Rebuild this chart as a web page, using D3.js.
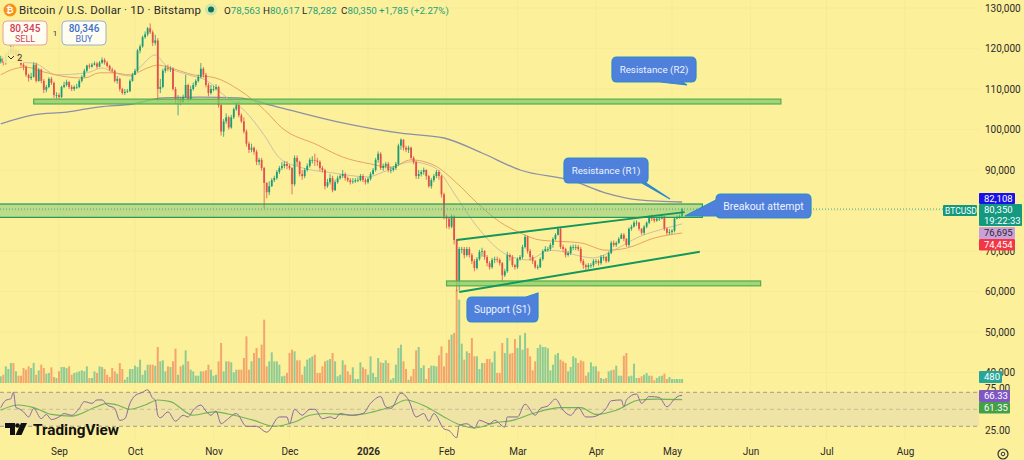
<!DOCTYPE html>
<html>
<head>
<meta charset="utf-8">
<script src="https://cdn.jsdelivr.net/npm/d3@7"></script>
<style>
html, body { margin: 0; padding: 0; background: #fdf09b; overflow: hidden; }
text { font-family: Roboto, "Liberation Sans", sans-serif; }
</style>
</head>
<body>
<div id="chart"></div>
<script>
// prices in thousands of USD, one candle a day starting 2025-08-09
var closes = [
  117.5,116.5,118.5,119,120,118.5,119.5,117.5,116,115.5,
  113.5,112.7,113,116,112,114.8,112,109.8,110.5,112.5,
  111.5,108.5,108.5,108,110.5,111,111.7,110.5,110,110.5,
  110.5,112,113,114.5,115.8,115.5,116,116.3,115.5,116.5,
  117.2,116.5,115.7,114.8,114.5,112,112.5,110,109,109.3,
  109.5,112,113.5,114.5,119.5,120.5,122.8,123.5,125,124,
  121.4,122,110,110.5,114.5,115.2,115,115,110,107.5,
  107.5,106.8,108,111,107.5,110,111,112,113,115,
  113.5,111,109,110,110,110.5,106,99.5,102,103,
  100.5,103,105,106,103.5,102,99.5,96.5,95,95.5,
  94.5,92,92.5,90.5,86.8,84.5,86,87.5,88,89.5,
  90.5,91,91.5,91,90.5,86.5,93,92,89,88.5,
  90,91,92.5,92.5,92.3,92,90.5,90,86,87,
  88,85,87,88,88.5,89,88,87.5,87,87.2,
  87.5,87.5,88.5,87.5,87,87.8,89,90,92.5,94,
  90.5,91,91.5,90,90,90.5,91.5,96,97.5,95.5,
  95,95.5,93,92,88.5,89,89.5,90,88.5,86,
  87.5,88.5,89.5,88.5,84,78.5,78,76,78.5,72.7,
  62.5,70.5,70.5,69,70.5,69,67.5,65.8,68,69.8,
  70,68.5,67,66,67.8,68,67.8,67,64,65,
  69,68.5,66.5,66,68,68.5,71,73.5,70,68.5,
  67.5,66,66,68,70,70.5,70.5,71.5,73,74,
  75.5,71,70.5,69,69.5,71,71,71,70.5,67.5,
  66.5,66,66.5,66.5,67.5,67.5,67,68.5,68.5,67.5,
  69.5,72,71.5,72,73,74,73,71.5,75.5,76,
  77,77,75.5,74.5,76,77,78.5,78,77.5,78,
  78,78.5,75.5,74.5,74.7,75,78,78.2,78.56,80.35
];
var highs = [
  118.2,118,119,119.8,121,120.5,120,119.8,118,116.8,
  115.8,113.8,114,116.6,116.5,115.2,115,112.5,111,112.9,
  113,111.8,109.2,109,110.8,111.8,112.3,112,111,110.9,
  111.3,112.4,113.4,115,116,116.3,116.4,116.8,116.7,116.9,
  117.8,117.6,116.9,116,115.3,114.8,113.2,112.8,110.3,110,
  110,112.4,114,115,119.9,121,123.2,124.2,125.3,126.2,
  124.5,123.4,122.6,112.5,115,115.8,116,115.6,115.4,110.5,
  108.5,108,108.6,113.5,111.3,110.8,111.6,112.4,113.6,116.4,
  115.4,114,111.5,111,110.8,111.2,110.8,106.5,102.6,104,
  103.4,103.6,105.4,106.8,107,104,103,100,97,96.5,
  95.8,95,93,93,90.8,87,87.2,88,88.6,90,
  91,92,92.2,92.2,91.4,90.7,93.6,93.6,92.3,90,
  90.5,91.6,93,93.4,94,93,92.4,91,90.3,87.8,
  89,88.6,87.6,88.6,89,90,89.4,88.4,88,88,
  88,88.2,89,89,88,88.2,89.5,90.5,93,94.6,
  94.4,91.6,92,92,90.8,91,92,96.5,97.8,97.6,
  96,96,95.8,93.4,92.3,90,90,90.6,90.2,88.8,
  88,89,90,90,88.8,84.4,79,78.3,79,78.8,
  73,71,71,71,71,71,69.5,68,68.5,70.3,
  70.8,70.2,69,67.5,68.3,68.6,68.6,68.2,67.3,65.6,
  69.8,69.4,69,66.8,68.4,69,71.5,74,73.8,70.5,
  69,67.8,66.6,68.4,70.4,71.2,71,72,73.4,74.4,
  76,76,71.6,70.8,70,71.4,71.6,71.6,71.5,71,
  68,66.9,67,67,68,68,67.9,69,69,68.8,
  69.9,72.5,72.6,72.4,73.4,74.4,74.4,73.2,75.8,76.5,
  77.5,77.6,77.2,75.6,76.4,77.3,78.8,79,78.3,78.5,
  78.6,79,78.7,75.8,75.4,75.4,78.4,78.8,79,80.62
];
var lows = [
  116.3,115.8,116,117.9,118.5,117.8,118,117,115.5,114.6,
  113,111.8,112.2,112.8,111.6,111.8,111.4,109,109.2,110.2,
  111,107.8,107.6,107.4,107.8,110.2,110.6,110,109.5,109.5,
  110,110.2,111.6,112.8,114.2,115,115.3,115.8,115,115.4,
  116.2,116,115.3,114.4,114,111.6,111.3,109.4,108.6,108.5,
  109,109.2,111.8,113.4,114.2,118.8,120.2,122.4,123,123.6,
  120.6,120.8,107,109,110.2,114,114.4,114.2,109.6,106.4,
  103.5,106,106.6,107.8,106.8,107.2,109.6,110.5,111.6,112.6,
  112.8,110.4,108.2,108.6,109.4,109.6,105.4,98.5,98.2,101.4,
  100,100.2,102.6,104.6,103,101.6,99,95.8,94.2,94.4,
  93.8,91.2,91.2,89.8,80.5,83,83.8,85.8,87,87.6,
  89,90,90.4,90.2,90,84,86,91,88.4,87.6,
  88,89.6,90.6,91.6,91,91,89.8,89.4,85.2,85.6,
  86.4,84.5,84.8,86.6,87.6,88,87.4,87,86.4,86.6,
  86.8,87,87.2,87,86.4,86.6,87.4,88.8,89.6,91.8,
  90,89.8,90.4,89.4,89.2,89.6,90,91,95,94.8,
  94.4,94.2,92.6,91.4,87.8,87.8,88.4,88.8,87.6,85.6,
  85.4,87,88,87.6,83.2,77.8,75.6,75.4,75.6,71.6,
  60,60.2,69.4,68.2,68.6,68.4,66.8,65,65.4,67.6,
  68.6,67.8,66.2,65.4,65.6,67,67.2,66.4,62.6,63.6,
  64.6,67.6,66,65.4,65.6,67.6,68,70.6,69.4,67.6,
  66.8,65.6,65.4,65.8,67.6,69.8,69.8,70,70.8,72.6,
  73.8,70.5,69.8,68.4,68.6,69,70.2,70.2,70,67,
  65.6,65.2,65.4,65.8,66,66.8,66.4,66.6,67.6,67,
  67.2,69.2,71,71,71.8,73,72.4,71,71,75,
  75.8,76.2,75,74,74,75.6,76.6,77.4,77,77.2,
  77.4,77.8,75,74,74,74.2,74.6,77.8,78,78.28
];
var firstOpen = 116.8;
var volumes = [
  800,1000,2000,1680,2400,2400,1400,880,880,1800,
  1600,2000,1800,2400,1000,1520,2200,1800,1120,1200,
  1880,720,600,1400,1920,1920,1800,2000,1000,1200,
  1280,1400,1520,1400,2000,600,600,1400,1200,2000,
  1920,1680,1000,720,1800,1400,1120,2400,1680,400,
  720,1680,1680,2080,1920,2800,1000,1520,2200,2200,
  2200,2080,4320,2600,2720,1400,2000,1920,2600,4120,
  1000,2000,2200,3920,2600,1600,1400,880,880,1400,
  1400,1520,2200,1600,880,1000,2600,4800,1400,2600,
  2600,2480,1280,1600,1600,1600,3000,5600,1600,2600,
  3600,4200,3000,4600,7600,2000,2600,3680,2600,2600,
  2200,800,880,1200,3600,4000,3800,2720,2720,1000,
  2000,2800,3000,3200,3400,1200,1200,2000,2600,2720,
  2880,3600,2600,800,1000,2720,2200,1400,1000,1880,
  480,480,2480,1880,1680,1000,3200,1200,720,3000,
  2480,2400,2720,2400,400,600,2200,4200,4600,2600,
  1680,400,800,1680,3920,4320,1800,2120,480,1800,
  2080,2080,2000,3320,4400,2000,3600,5200,5800,6000,
  11200,10000,4720,2800,3800,3600,5400,3200,3200,1680,
  2400,2400,2880,2880,2480,3800,1200,1200,4800,3600,
  5400,3520,3600,5280,4200,5720,4000,6000,4200,3200,
  1520,2600,4200,4600,4320,4320,4160,1520,2200,3400,
  3600,2800,2600,2400,1400,1920,3200,3000,2400,2720,
  2600,880,1280,2480,2000,2000,1400,600,480,600,
  1400,1520,1600,2080,880,880,3280,3600,800,880,
  2320,600,600,800,1000,1200,880,880,320,600,
  800,880,1120,480,720,480,480,480,480,480
];

// moving averages and rsi, read at the turning points: day index and value
var ema20Days = [0,13,22,34,40,44,51,55,61,65,74,81,89,96,104,110,118,131,145,151,162,171,180,186,200,208,217,234,242,252,263,269];
var ema20 = [116.7,116.4,113.5,114,115.2,114.2,113.2,115.4,118.4,115.9,113.5,112.2,108,104.8,98.6,93,90.7,89.3,88.3,89.5,92,90.7,83.3,77.7,69,67.8,70.2,68.3,70.2,73.5,75.7,76.7];
var ema50Days = [0,4,10,17,26,33,39,44,51,58,62,67,76,85,94,104,111,125,135,146,154,162,171,180,188,197,205,213,229,239,247,258,269];
var ema50 = [113.5,114.7,115.4,114.2,113,112.7,114,114,113.5,115.2,115.9,115.2,113.5,112.7,109.8,104.9,100.4,96.2,93.2,91.5,90.7,92.5,91.2,86.8,81.9,77.2,74.5,72.7,72,70.2,70.7,73.2,74.45];
var sma200Days = [0,13,26,39,52,64,79,94,109,133,158,175,190,205,226,239,252,269];
var sma200 = [101.4,103.6,104.3,105.6,106.3,107.8,108,107.8,105.6,101.9,99.1,97.9,94.2,90,87.3,84.3,82.6,82.1];
var rsiDays = [0,2,4,5,6,7,9,11,13,16,18,20,23,25,28,31,33,36,38,40,42,45,47,49,51,53,56,58,60,61,62,63,66,69,72,74,76,79,81,83,85,87,89,93,97,101,105,110,113,114,116,119,122,124,127,130,132,134,138,143,146,150,152,154,158,161,164,167,169,171,175,177,180,181,184,187,189,193,195,199,200,204,207,211,213,216,219,222,225,228,231,233,237,239,241,245,246,247,251,253,256,260,263,266,268,269];
var rsi = [52,60.6,62.5,70,52,51,47,41,51,39,44,38,41,45,43,51,59,57,61,61,55,51,37,39,57,66,70,73,63,61,43,40,47,36,43,41,49,55,48,43,48,33,37,45,30,30,23,41,41,33,50,43,50,50,39,41,39,45,43,45,57,65,53,51,69,61,41,45,36,45,27,25,16.5,31,33,28,37,33,37,29,41,41,56,43,51,54,62,49,43,52,41,41,45,51,60,61,53,61,68,57,65,64,53,62,66,66.33];
var rsiMaDays = [0,7,13,20,28,37,42,46,51,57,62,67,76,84,92,100,108,116,122,128,134,139,147,154,160,168,175,181,187,195,202,210,221,229,235,243,252,259,269];
var rsiMa = [49,55,52,44,42,52,57,55,50,55,61,59,43,47,43,37,30,35,43,45,44,43,47,53,61,53,41,32,28,34,37,45,52,52,44,49,61,62,61.35];

var priceTicks = [130,120,110,100,90,80,70,60,50,40];
var rsiTicks = [75,25];
var monthTicks = ["2025-09-01","2025-10-01","2025-11-01","2025-12-01","2026-01-01","2026-02-01","2026-03-01","2026-04-01","2026-05-01","2026-06-01","2026-07-01","2026-08-01"];
var monthLabels = ["Sep","Oct","Nov","Dec","2026","Feb","Mar","Apr","May","Jun","Jul","Aug"];

// support / resistance boxes: first day, last day, top, bottom (thousands)
var zoneR2 = [13,308,107.5,106.3];
var zoneR1 = [-1,277,81.6,78.3];
var zoneS1 = [176,300,62.6,61.4];
var trendUpper = [180,270,72.7,79.6];
var trendLower = [181,276,59.9,69.8];

var width = 1024, height = 460, axisX = 979;
var startDay = Date.UTC(2025,7,9);

var svg = d3.select("#chart").append("svg")
    .attr("width", width)
    .attr("height", height)
    .style("display", "block");

svg.append("rect").attr("width", width).attr("height", height).attr("fill", "#fdf09b");

let x = d3.scaleUtc()
    .domain([new Date("2025-09-01"), new Date("2026-08-01")])
    .range([59, 905]);
let y = d3.scaleLinear().domain([130, 50]).range([8, 332]);
let yVol = d3.scaleLinear().domain([0, 12000]).range([383, 283]);
let yRsi = d3.scaleLinear().domain([70, 30]).range([392.3, 426.3]);

function dayX(i) { return x(d3.utcDay.offset(startDay, i)); }

// grid
let grid = svg.append("g").attr("stroke", "#f7ea98").attr("stroke-width", 1);
monthTicks.forEach(function(m){
    let px = x(new Date(m));
    grid.append("line").attr("x1", px).attr("x2", px).attr("y1", 0).attr("y2", 440);
});
priceTicks.forEach(function(p){
    grid.append("line").attr("x1", 0).attr("x2", axisX).attr("y1", y(p)).attr("y2", y(p));
});

// volume
let opens = closes.map(function(c, i){ return i == 0 ? firstOpen : closes[i-1]; });
svg.append("g").selectAll("rect")
    .data(volumes)
    .enter().append("rect")
    .attr("x", function(d,i){ return dayX(i) - 1; })
    .attr("width", 2)
    .attr("y", function(d){ return yVol(d); })
    .attr("height", function(d){ return 383 - yVol(d); })
    .attr("fill", function(d,i){ return closes[i] >= opens[i] ? "#8fcb94" : "#f3a56d"; });

// moving averages
function sparseLine(days, vals, stroke, w) {
    let line = d3.line()
        .x(function(d,i){ return dayX(days[i]); })
        .y(function(d){ return y(d); })
        .curve(d3.curveMonotoneX);
    svg.append("path").attr("d", line(vals))
        .attr("fill", "none").attr("stroke", stroke).attr("stroke-width", w);
}
sparseLine(sma200Days, sma200, "#8c90a6", 1.3);
sparseLine(ema20Days, ema20, "#cdbfa6", 1);
sparseLine(ema50Days, ema50, "#e8a268", 1);

// candles
let candles = svg.append("g");
candles.selectAll("line")
    .data(closes)
    .enter().append("line")
    .attr("x1", function(d,i){ return dayX(i); })
    .attr("x2", function(d,i){ return dayX(i); })
    .attr("y1", function(d,i){ return y(highs[i]); })
    .attr("y2", function(d,i){ return y(lows[i]); })
    .attr("stroke", function(d,i){ return d >= opens[i] ? "#1a9c78" : "#e2504c"; })
    .attr("stroke-width", 0.8);
candles.selectAll("rect")
    .data(closes)
    .enter().append("rect")
    .attr("x", function(d,i){ return dayX(i) - 0.9; })
    .attr("width", 1.8)
    .attr("y", function(d,i){ return y(Math.max(d, opens[i])); })
    .attr("height", function(d,i){ return Math.max(0.8, Math.abs(y(d) - y(opens[i]))); })
    .attr("fill", function(d,i){ return d >= opens[i] ? "#1a9c78" : "#e2504c"; });

// zones and trend lines
function zone(z, fill, stroke, w) {
    svg.append("rect")
        .attr("x", dayX(z[0])).attr("width", dayX(z[1]) - dayX(z[0]))
        .attr("y", y(z[2])).attr("height", y(z[3]) - y(z[2]))
        .attr("fill", fill).attr("stroke", stroke).attr("stroke-width", w);
}
zone(zoneR2, "rgba(130,205,105,0.75)", "#56ab4e", 1.2);
zone(zoneR1, "rgba(100,190,110,0.42)", "#1e9a5c", 1.2);
zone(zoneS1, "rgba(130,205,105,0.75)", "#56ab4e", 1.2);

function trend(t) {
    svg.append("line")
        .attr("x1", dayX(t[0])).attr("x2", dayX(t[1]))
        .attr("y1", y(t[2])).attr("y2", y(t[3]))
        .attr("stroke", "#12975c").attr("stroke-width", 2);
}
trend(trendUpper);
trend(trendLower);

// last price dotted line
svg.append("line")
    .attr("x1", 0).attr("x2", 945)
    .attr("y1", y(closes[closes.length-1])).attr("y2", y(closes[closes.length-1]))
    .attr("stroke", "#34a884").attr("stroke-width", 1).attr("stroke-dasharray", "1 2");

// rsi pane
svg.append("rect")
    .attr("x", 0).attr("width", axisX)
    .attr("y", yRsi(70)).attr("height", yRsi(30) - yRsi(70))
    .attr("fill", "#efe3a5");
[70,50,30].forEach(function(level){
    svg.append("line")
        .attr("x1", 0).attr("x2", axisX)
        .attr("y1", yRsi(level)).attr("y2", yRsi(level))
        .attr("stroke", level == 50 ? "#bfb48f" : "#8f8a7a")
        .attr("stroke-width", 0.8)
        .attr("stroke-dasharray", "4 3");
});
function rsiPath(days, vals, stroke, w) {
    let line = d3.line()
        .x(function(d,i){ return dayX(days[i]); })
        .y(function(d){ return yRsi(d); })
        .curve(d3.curveMonotoneX);
    svg.append("path").attr("d", line(vals))
        .attr("fill", "none").attr("stroke", stroke).attr("stroke-width", w);
}
rsiPath(rsiMaDays, rsiMa, "#6fb552", 1.1);
rsiPath(rsiDays, rsi, "#8a6aa0", 1);

// axes
let priceAxis = svg.append("g")
    .attr("transform", "translate(" + axisX + ",0)")
    .call(d3.axisRight(y).tickValues(priceTicks).tickSize(0).tickPadding(6)
        .tickFormat(function(d){ return d3.format(",")(d*1000); }));
let rsiAxis = svg.append("g")
    .attr("transform", "translate(" + axisX + ",0)")
    .call(d3.axisRight(yRsi).tickValues(rsiTicks).tickSize(0).tickPadding(6)
        .tickFormat(d3.format(".2f")));
let timeAxis = svg.append("g")
    .attr("transform", "translate(0,445)")
    .call(d3.axisBottom(x).tickValues(monthTicks.map(function(m){ return new Date(m); })).tickSize(0).tickPadding(3)
        .tickFormat(function(d,i){ return monthLabels[i]; }));
[priceAxis, rsiAxis, timeAxis].forEach(function(a){
    a.select(".domain").remove();
    a.selectAll("text").attr("fill", "#2a2a2a").style("font-size", "10px").style("font-family", "Roboto, sans-serif");
});
timeAxis.selectAll("text").filter(function(d,i){ return monthLabels[i] == "2026"; }).style("font-weight", "bold");

// callouts
function bubble(x0, y0, x1, y1, tail, label, size) {
    let r = 5;
    let p = d3.path();
    p.moveTo(x0 + r, y0);
    if (tail.side == "top") { p.lineTo(tail.a, y0); p.lineTo(tail.x, tail.y); p.lineTo(x1, tail.b); p.lineTo(x1, y1 - r); }
    else { p.lineTo(x1 - r, y0); p.quadraticCurveTo(x1, y0, x1, y0 + r); p.lineTo(x1, y1 - r); }
    p.quadraticCurveTo(x1, y1, x1 - r, y1);
    if (tail.side == "bottom") { p.lineTo(tail.b, y1); p.lineTo(tail.x, tail.y); p.lineTo(tail.a, y1); }
    p.lineTo(x0 + r, y1);
    p.quadraticCurveTo(x0, y1, x0, y1 - r);
    if (tail.side == "left") { p.lineTo(x0, tail.b); p.lineTo(tail.x, tail.y); p.lineTo(x0, tail.a); }
    p.lineTo(x0, y0 + r);
    p.quadraticCurveTo(x0, y0, x0 + r, y0);
    p.closePath();
    svg.append("path").attr("d", p.toString())
        .attr("fill", "#4f80dc").attr("stroke", "#2a8bc8").attr("stroke-width", 1.2);
    svg.append("text")
        .attr("x", (x0 + x1) / 2).attr("y", (y0 + y1) / 2 + 3.5)
        .attr("text-anchor", "middle")
        .attr("fill", "#eef3ff")
        .style("font-size", size + "px")
        .text(label);
}
bubble(612, 57, 696, 82, {side:"bottom", a:660, b:682, x:687, y:85}, "Resistance (R2)", 9.8);
bubble(564, 158, 648, 183, {side:"bottom", a:642, b:646, x:670, y:199}, "Resistance (R1)", 9.8);
bubble(716, 194, 811, 218, {side:"left", a:200, b:216, x:685, y:216}, "Breakout attempt", 10.4);
bubble(467, 297, 538, 322, {side:"top", a:526, b:304, x:538, y:293}, "Support (S1)", 10.1);

// price labels on the right
function priceLabel(x0, y0, w, h, fill, color, lines, size) {
    svg.append("rect").attr("x", x0).attr("y", y0).attr("width", w).attr("height", h).attr("rx", 1).attr("fill", fill);
    lines.forEach(function(t, i){
        svg.append("text").attr("x", x0 + 5).attr("y", y0 + 9 + i*11)
            .attr("fill", color).style("font-size", (size || 9.5) + "px").text(t);
    });
}
priceLabel(979, 193, 36, 11, "#1a10e8", "#ffffff", ["82,108"]);
priceLabel(979, 204, 43, 22, "#12997f", "#ffffff", ["80,350", "19:22:33"]);
priceLabel(979, 227, 36, 12, "#c9a0da", "#2a2a2a", ["76,695"]);
priceLabel(979, 239, 36, 11.5, "#f23645", "#ffffff", ["74,454"]);
priceLabel(943, 205, 34, 11, "#12997f", "#ffffff", ["BTCUSD"], 8.5);
svg.selectAll("text").filter(function(){ return this.textContent == "BTCUSD"; }).attr("x", 945);
priceLabel(979, 371, 23, 12, "#26a69a", "#ffffff", ["480"]);
priceLabel(979, 390, 31, 12, "#7e57c2", "#ffffff", ["66.33"]);
priceLabel(979, 402, 31, 11.5, "#43a047", "#ffffff", ["61.35"]);

// header
svg.append("circle").attr("cx", 10).attr("cy", 10).attr("r", 6.5).attr("fill", "#f7931a");
svg.append("text").attr("x", 10).attr("y", 13).attr("text-anchor", "middle").attr("fill", "#fff")
    .style("font-size", "9px").style("font-weight", "bold").text("₿");
svg.append("text").attr("x", 19).attr("y", 14).attr("fill", "#2a2a2a")
    .style("font-size", "11.5px").style("letter-spacing", "0.15px")
    .text("Bitcoin / U.S. Dollar · 1D · Bitstamp");
svg.append("circle").attr("cx", 211).attr("cy", 9.5).attr("r", 6).attr("fill", "#cfe6a8");
svg.append("circle").attr("cx", 211).attr("cy", 9.5).attr("r", 3).attr("fill", "#0d6f5c");
var ohlcLabels = ["O","H","L","C"];
var ohlcValues = ["78,563","80,617","78,282","80,350"];
var ohlcX = [224,263,302,341];
ohlcLabels.forEach(function(l,i){
    let t = svg.append("text").attr("x", ohlcX[i]).attr("y", 14).style("font-size", "9.8px");
    t.append("tspan").attr("fill", "#2a2a2a").text(l);
    t.append("tspan").attr("fill", "#1fa37c").text(ohlcValues[i]);
});
svg.append("text").attr("x", 379).attr("y", 14).attr("fill", "#1fa37c").style("font-size", "9.7px").text("+1,785 (+2.27%)");

// faint legend box hiding the first candles
svg.append("rect").attr("x", 3).attr("y", 47).attr("width", 22).attr("height", 16).attr("rx", 2)
    .attr("fill", "#fdf09b").attr("fill-opacity", 0.85);

function tradeButton(x0, stroke, color, price, side) {
    svg.append("rect").attr("x", x0).attr("y", 21).attr("width", 44).attr("height", 24).attr("rx", 4)
        .attr("fill", "#fffdf0").attr("stroke", stroke).attr("stroke-width", 1);
    svg.append("text").attr("x", x0 + 22).attr("y", 32).attr("text-anchor", "middle").attr("fill", color)
        .style("font-size", "10px").style("font-weight", "500").text(price);
    svg.append("text").attr("x", x0 + 22).attr("y", 42).attr("text-anchor", "middle").attr("fill", color)
        .style("font-size", "9px").text(side);
}
tradeButton(3, "#e8a0a0", "#d0405a", "80,345", "SELL");
tradeButton(62, "#9ab0cc", "#3a6fd0", "80,346", "BUY");
svg.append("text").attr("x", 55).attr("y", 36).attr("text-anchor", "middle").attr("fill", "#333").style("font-size", "8px").text("1");
svg.append("path").attr("d", "M8 56 L11 59 L14 56").attr("fill", "none").attr("stroke", "#333").attr("stroke-width", 1);
svg.append("text").attr("x", 17).attr("y", 61).attr("fill", "#333").style("font-size", "9.5px").text("2");

// logo
let logo = svg.append("g");
logo.append("path").attr("d", "M5 423 H15 V435 H10 V428 H5 Z").attr("fill", "#111");
logo.append("circle").attr("cx", 17.5).attr("cy", 425.5).attr("r", 2.3).attr("fill", "#111");
logo.append("path").attr("d", "M21 423 H27 L21.5 435 H15.5 Z").attr("fill", "#111");
svg.append("text").attr("x", 33).attr("y", 435).attr("fill", "#111")
    .style("font-size", "15.3px").style("font-weight", "700").text("TradingView");

// settings gear
svg.append("circle").attr("cx", 1003).attr("cy", 454).attr("r", 5).attr("fill", "none").attr("stroke", "#333").attr("stroke-width", 1.2);
svg.append("circle").attr("cx", 1003).attr("cy", 454).attr("r", 1.8).attr("fill", "none").attr("stroke", "#333").attr("stroke-width", 1);
</script>
</body>
</html>
